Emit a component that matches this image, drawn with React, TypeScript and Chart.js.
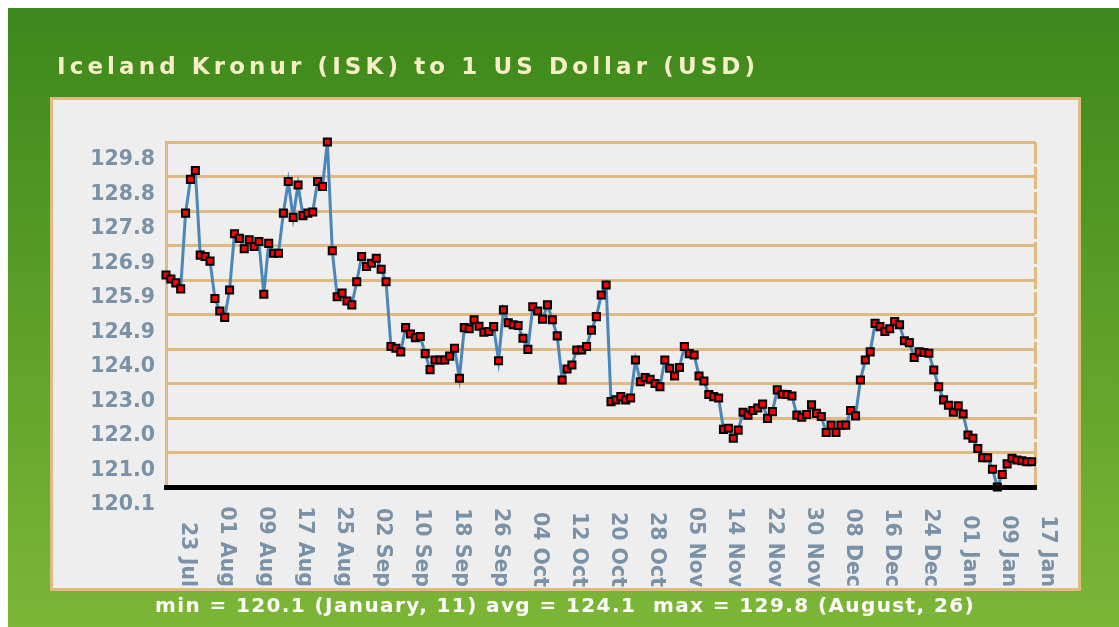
import React, { useEffect, useRef } from "react";
import { Chart, registerables } from "chart.js";

Chart.register(...registerables);

// ISK per 1 USD, one value per trading point
const rates: number[] = [
  126.06, 125.95, 125.84, 125.67, 127.8, 128.75, 129.0, 126.62, 126.58, 126.45,
  125.4, 125.05, 124.87, 125.64, 127.22, 127.09, 126.8, 127.05, 126.86, 127.0,
  125.52, 126.95, 126.67, 126.67, 127.8, 128.69, 127.68, 128.59, 127.73, 127.8,
  127.83, 128.69, 128.55, 129.8, 126.74, 125.45, 125.55, 125.33, 125.22, 125.87,
  126.58, 126.3, 126.39, 126.53, 126.22, 125.87, 124.05, 124.0, 123.9, 124.58,
  124.4, 124.3, 124.33, 123.85, 123.4, 123.67, 123.67, 123.67, 123.78, 124.0,
  123.16, 124.58, 124.55, 124.8, 124.62, 124.45, 124.47, 124.61, 123.65, 125.08,
  124.72, 124.66, 124.64, 124.28, 123.97, 125.17, 125.05, 124.82, 125.22, 124.8,
  124.35, 123.11, 123.42, 123.53, 123.95, 123.95, 124.05, 124.51, 124.89, 125.5,
  125.78, 122.5, 122.55, 122.64, 122.55, 122.6, 123.67, 123.06, 123.18, 123.13,
  123.01, 122.92, 123.67, 123.44, 123.22, 123.46, 124.05, 123.85, 123.81, 123.22,
  123.08, 122.7, 122.64, 122.6, 121.72, 121.75, 121.47, 121.7, 122.2, 122.12,
  122.25, 122.32, 122.43, 122.03, 122.22, 122.83, 122.71, 122.7, 122.66, 122.12,
  122.06, 122.14, 122.41, 122.17, 122.08, 121.63, 121.84, 121.63, 121.84, 121.84,
  122.25, 122.1, 123.11, 123.67, 123.9, 124.7, 124.61, 124.47, 124.55, 124.75,
  124.66, 124.21, 124.16, 123.74, 123.9, 123.88, 123.86, 123.39, 122.92, 122.55,
  122.4, 122.2, 122.38, 122.15, 121.56, 121.47, 121.18, 120.92, 120.92, 120.6,
  120.1, 120.45, 120.75, 120.91, 120.86, 120.84, 120.81, 120.81,
];

const yTickLabels: string[] = [
  "120.1", "121.0", "122.0", "123.0", "124.0", "124.9",
  "125.9", "126.9", "127.8", "128.8", "129.8",
];
const yMin = 120.1;
const yMax = 129.8;
const yStep = 0.97;

const xTickLabels: string[] = [
  "23 Jul", "01 Aug", "09 Aug", "17 Aug", "25 Aug", "02 Sep", "10 Sep", "18 Sep",
  "26 Sep", "04 Oct", "12 Oct", "20 Oct", "28 Oct", "05 Nov", "14 Nov", "22 Nov",
  "30 Nov", "08 Dec", "16 Dec", "24 Dec", "01 Jan", "09 Jan", "17 Jan",
];
const xTickFirst = 4.3; // index position of the first date label
const xTickEvery = 8; // points between date labels
const xMax = 177.7;

const titleText = "Iceland Kronur (ISK) to 1 US Dollar (USD)";
const footerText = "min = 120.1 (January, 11) avg = 124.1  max = 129.8 (August, 26)";

const TAN = "#e1ba82";
const LABEL = "#7a91a6";
const LINE = "#4a86ba";
const FONT = '"DejaVu Sans"';

const decor = {
  id: "decor",
  beforeDraw(chart: any) {
    const { ctx, width, height } = chart;
    ctx.save();
    const g = ctx.createLinearGradient(0, 0, 0, height);
    g.addColorStop(0, "#3c881b");
    g.addColorStop(1, "#7db637");
    ctx.fillStyle = g;
    ctx.fillRect(0, 0, width, height);
    ctx.fillStyle = "#eeeeee";
    ctx.fillRect(43.5, 90.5, 1028, 491);
    ctx.strokeStyle = TAN;
    ctx.lineWidth = 3;
    ctx.strokeRect(43.5, 90.5, 1028, 491);
    ctx.restore();
  },
  afterDraw(chart: any) {
    const { ctx } = chart;
    ctx.save();
    // title
    ctx.font = `bold 23px ${FONT}`;
    (ctx as any).letterSpacing = "4.1px";
    ctx.fillStyle = "#f6efc6";
    ctx.textAlign = "left";
    ctx.textBaseline = "alphabetic";
    ctx.fillText(titleText, 49, 66);
    // footer
    ctx.font = `bold 20px ${FONT}`;
    (ctx as any).letterSpacing = "1.4px";
    ctx.fillStyle = "#ffffff";
    ctx.textAlign = "center";
    ctx.fillText(footerText, 557, 604);
    // rotated date labels
    (ctx as any).letterSpacing = "0px";
    ctx.font = `bold 20.5px ${FONT}`;
    ctx.fillStyle = LABEL;
    const xs = chart.scales.x;
    xTickLabels.forEach((t, k) => {
      const px = xs.getPixelForValue(xTickFirst + k * xTickEvery);
      ctx.save();
      ctx.translate(px, 579);
      ctx.rotate(Math.PI / 2);
      ctx.textAlign = "right";
      ctx.textBaseline = "middle";
      ctx.fillText(t, 0, 0);
      ctx.restore();
    });
    ctx.restore();
  },
};

export default function App() {
  const ref = useRef<HTMLCanvasElement>(null);
  useEffect(() => {
    const canvas = ref.current;
    if (!canvas) return;
    const points = rates.map((v, i) => ({ x: i, y: v }));
    const chart = new Chart(canvas, {
      type: "line",
      data: {
        datasets: [
          {
            data: points,
            borderColor: LINE,
            borderWidth: 3,
            pointRadius: 0,
            tension: 0,
            clip: false,
            order: 1,
          } as any,
          {
            data: points,
            showLine: false,
            pointStyle: "rect",
            pointRadius: 5,
            pointBackgroundColor: "#ff0000",
            pointBorderColor: "#000000",
            pointBorderWidth: 2,
            clip: false,
            order: 0,
          } as any,
        ],
      },
      options: {
        responsive: false,
        animation: false,
        layout: { padding: { left: 58, top: 134, right: 84, bottom: 140 } },
        plugins: {
          legend: { display: false },
          tooltip: { enabled: false },
          title: { display: false },
        },
        scales: {
          x: {
            type: "linear",
            min: 0,
            max: xMax,
            ticks: { display: false },
            grid: { color: TAN, lineWidth: 3, drawTicks: false },
            border: { display: true, color: "#000000", width: 5, dash: [22, 3], z: 1 },
            afterBuildTicks: (s: any) => {
              s.ticks = [{ value: 0 }, { value: xMax }];
            },
            afterFit: (s: any) => {
              s.height = 0;
            },
          },
          y: {
            type: "linear",
            min: yMin,
            max: yMax,
            ticks: {
              color: LABEL,
              font: { family: "DejaVu Sans", size: 20.5, weight: "bold" },
              padding: 11,
              labelOffset: 18,
              callback: (_v: any, i: number) => yTickLabels[i],
            },
            grid: { color: TAN, lineWidth: 3, drawTicks: false },
            border: { color: TAN, width: 3 },
            afterBuildTicks: (s: any) => {
              s.ticks = yTickLabels.map((_, k) => ({ value: yMin + k * yStep }));
            },
            afterFit: (s: any) => {
              s.width = 100;
            },
          },
        },
      } as any,
      plugins: [decor],
    });
    return () => chart.destroy();
  }, []);
  return (
    <div style={{ position: "fixed", left: 8, top: 8, width: 1111, height: 619 }}>
      <canvas ref={ref} width={1111} height={619} style={{ display: "block" }} />
    </div>
  );
}
